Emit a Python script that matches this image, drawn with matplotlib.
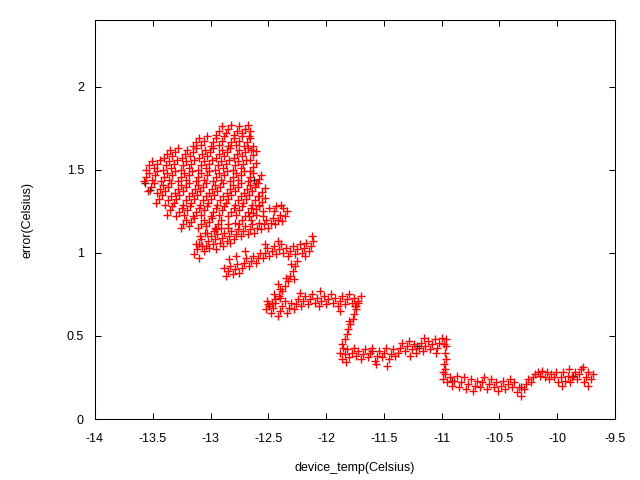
import matplotlib.pyplot as plt

# (device_temp, error) samples, grouped by region
blob_r1 = [(-12.95, 1.71), (-12.925, 1.735), (-12.90, 1.76), (-12.87, 1.72), (-12.845, 1.745), (-12.82, 1.77),
           (-12.80, 1.71), (-12.775, 1.735), (-12.75, 1.76), (-12.73, 1.72), (-12.705, 1.745), (-12.68, 1.77),
           (-12.67, 1.70), (-12.66, 1.73)]
blob_r2 = [(-13.15, 1.64), (-13.125, 1.665), (-13.10, 1.69), (-13.08, 1.65), (-13.055, 1.675), (-13.03, 1.70),
           (-13.00, 1.64), (-12.975, 1.665), (-12.95, 1.69), (-12.93, 1.65), (-12.905, 1.675), (-12.88, 1.70),
           (-12.85, 1.64), (-12.825, 1.665), (-12.80, 1.69), (-12.78, 1.65), (-12.755, 1.675), (-12.73, 1.70),
           (-12.71, 1.64), (-12.685, 1.665), (-12.66, 1.69), (-12.65, 1.62), (-12.63, 1.645)]
blob_r3 = [(-13.40, 1.57), (-13.375, 1.595), (-13.35, 1.62), (-13.33, 1.58), (-13.305, 1.605), (-13.28, 1.63),
           (-13.25, 1.57), (-13.225, 1.595), (-13.20, 1.62), (-13.18, 1.58), (-13.155, 1.605), (-13.13, 1.63),
           (-13.10, 1.57), (-13.075, 1.595), (-13.05, 1.62), (-13.03, 1.58), (-13.005, 1.605), (-12.98, 1.63),
           (-12.95, 1.57), (-12.925, 1.595), (-12.90, 1.62), (-12.88, 1.58), (-12.855, 1.605), (-12.83, 1.63),
           (-12.80, 1.57), (-12.775, 1.595), (-12.75, 1.62), (-12.73, 1.58), (-12.705, 1.605), (-12.68, 1.63),
           (-12.66, 1.56), (-12.635, 1.585), (-12.61, 1.61)]
blob_r4 = [(-13.56, 1.50), (-13.535, 1.525), (-13.51, 1.55), (-13.49, 1.51), (-13.465, 1.535), (-13.44, 1.56),
           (-13.41, 1.50), (-13.385, 1.525), (-13.36, 1.55), (-13.34, 1.51), (-13.315, 1.535), (-13.29, 1.56),
           (-13.26, 1.50), (-13.235, 1.525), (-13.21, 1.55), (-13.19, 1.51), (-13.165, 1.535), (-13.14, 1.56),
           (-13.11, 1.50), (-13.085, 1.525), (-13.06, 1.55), (-13.04, 1.51), (-13.015, 1.535), (-12.99, 1.56),
           (-12.96, 1.50), (-12.935, 1.525), (-12.91, 1.55), (-12.89, 1.51), (-12.865, 1.535), (-12.84, 1.56),
           (-12.81, 1.50), (-12.785, 1.525), (-12.76, 1.55), (-12.74, 1.51), (-12.715, 1.535), (-12.69, 1.56),
           (-12.66, 1.49), (-12.635, 1.515), (-12.61, 1.54)]
blob_r5 = [(-13.58, 1.43), (-13.555, 1.455), (-13.53, 1.48), (-13.51, 1.44), (-13.485, 1.465), (-13.46, 1.49),
           (-13.43, 1.43), (-13.405, 1.455), (-13.38, 1.48), (-13.36, 1.44), (-13.335, 1.465), (-13.31, 1.49),
           (-13.28, 1.43), (-13.255, 1.455), (-13.23, 1.48), (-13.21, 1.44), (-13.185, 1.465), (-13.16, 1.49),
           (-13.13, 1.43), (-13.105, 1.455), (-13.08, 1.48), (-13.06, 1.44), (-13.035, 1.465), (-13.01, 1.49),
           (-12.98, 1.43), (-12.955, 1.455), (-12.93, 1.48), (-12.91, 1.44), (-12.885, 1.465), (-12.86, 1.49),
           (-12.83, 1.43), (-12.805, 1.455), (-12.78, 1.48), (-12.76, 1.44), (-12.735, 1.465), (-12.71, 1.49),
           (-12.68, 1.43), (-12.655, 1.455), (-12.63, 1.48), (-12.61, 1.42), (-12.585, 1.445), (-12.56, 1.47)]
blob_r6 = [(-13.54, 1.37), (-13.515, 1.395), (-13.49, 1.42), (-13.46, 1.36), (-13.435, 1.385), (-13.41, 1.41),
           (-13.39, 1.37), (-13.365, 1.395), (-13.34, 1.42), (-13.31, 1.36), (-13.285, 1.385), (-13.26, 1.41),
           (-13.24, 1.37), (-13.215, 1.395), (-13.19, 1.42), (-13.16, 1.36), (-13.135, 1.385), (-13.11, 1.41),
           (-13.09, 1.37), (-13.065, 1.395), (-13.04, 1.42), (-13.01, 1.36), (-12.985, 1.385), (-12.96, 1.41),
           (-12.94, 1.37), (-12.915, 1.395), (-12.89, 1.42), (-12.86, 1.36), (-12.835, 1.385), (-12.81, 1.41),
           (-12.79, 1.37), (-12.765, 1.395), (-12.74, 1.42), (-12.71, 1.36), (-12.685, 1.385), (-12.66, 1.41),
           (-12.64, 1.37), (-12.615, 1.395), (-12.59, 1.42), (-12.58, 1.34), (-12.555, 1.365), (-12.53, 1.39)]
blob_r7 = [(-13.47, 1.30), (-13.445, 1.325), (-13.42, 1.35), (-13.39, 1.29), (-13.365, 1.315), (-13.34, 1.34),
           (-13.32, 1.30), (-13.295, 1.325), (-13.27, 1.35), (-13.24, 1.29), (-13.215, 1.315), (-13.19, 1.34),
           (-13.17, 1.30), (-13.145, 1.325), (-13.12, 1.35), (-13.09, 1.29), (-13.065, 1.315), (-13.04, 1.34),
           (-13.02, 1.30), (-12.995, 1.325), (-12.97, 1.35), (-12.94, 1.29), (-12.915, 1.315), (-12.89, 1.34),
           (-12.87, 1.30), (-12.845, 1.325), (-12.82, 1.35), (-12.79, 1.29), (-12.765, 1.315), (-12.74, 1.34),
           (-12.72, 1.30), (-12.695, 1.325), (-12.67, 1.35), (-12.64, 1.29), (-12.615, 1.315), (-12.59, 1.34),
           (-12.58, 1.28), (-12.555, 1.305), (-12.53, 1.33)]
blob_r8 = [(-13.38, 1.23), (-13.355, 1.255), (-13.33, 1.28), (-13.30, 1.22), (-13.275, 1.245), (-13.25, 1.27),
           (-13.23, 1.23), (-13.205, 1.255), (-13.18, 1.28), (-13.15, 1.22), (-13.125, 1.245), (-13.10, 1.27),
           (-13.08, 1.23), (-13.055, 1.255), (-13.03, 1.28), (-13.00, 1.22), (-12.975, 1.245), (-12.95, 1.27),
           (-12.93, 1.23), (-12.905, 1.255), (-12.88, 1.28), (-12.85, 1.22), (-12.825, 1.245), (-12.80, 1.27),
           (-12.78, 1.23), (-12.755, 1.255), (-12.73, 1.28), (-12.70, 1.22), (-12.675, 1.245), (-12.65, 1.27),
           (-12.63, 1.24), (-12.605, 1.265), (-12.58, 1.29)]
blob_r9 = [(-13.26, 1.15), (-13.235, 1.175), (-13.21, 1.20), (-13.19, 1.16), (-13.165, 1.185), (-13.14, 1.21),
           (-13.11, 1.15), (-13.085, 1.175), (-13.06, 1.20), (-13.04, 1.16), (-13.015, 1.185), (-12.99, 1.21),
           (-12.96, 1.15), (-12.935, 1.175), (-12.91, 1.20)]

band_12 = [(-13.14, 0.99), (-13.12, 1.02), (-13.10, 1.05), (-13.08, 1.08), (-13.06, 1.01), (-13.04, 1.04),
           (-13.02, 1.07), (-13.00, 1.10), (-12.98, 1.05), (-12.96, 1.08), (-12.94, 1.11), (-12.92, 1.06),
           (-12.90, 1.09), (-12.88, 1.12), (-12.86, 1.07), (-12.84, 1.10), (-12.82, 1.13), (-12.80, 1.08),
           (-12.78, 1.11), (-12.76, 1.14), (-12.74, 1.10), (-12.72, 1.13), (-12.70, 1.16), (-12.68, 1.11),
           (-12.66, 1.14), (-12.64, 1.17), (-12.62, 1.12), (-12.60, 1.15), (-12.58, 1.18), (-12.56, 1.14),
           (-12.54, 1.17), (-12.52, 1.20), (-12.50, 1.15), (-12.48, 1.18), (-12.46, 1.21), (-12.44, 1.17),
           (-12.42, 1.20), (-12.40, 1.23), (-12.38, 1.19), (-12.36, 1.22), (-12.34, 1.25), (-12.37, 1.27),
           (-12.45, 1.25), (-12.55, 1.22), (-12.65, 1.20), (-12.75, 1.17), (-12.85, 1.15), (-12.95, 1.14),
           (-13.05, 1.12), (-13.10, 0.97)]
band_12b = [(-13.09, 1.10), (-13.03, 1.12), (-12.97, 1.13), (-12.91, 1.15), (-12.85, 1.17), (-12.79, 1.18),
            (-12.73, 1.20), (-12.67, 1.22), (-12.61, 1.23), (-12.55, 1.25), (-12.49, 1.27), (-12.43, 1.28),
            (-12.39, 1.29), (-13.13, 1.05), (-13.07, 1.04), (-13.01, 1.03), (-12.95, 1.02), (-12.89, 1.04),
            (-12.83, 1.06)]

band_10 = [(-12.87, 0.86), (-12.85, 0.89), (-12.83, 0.92), (-12.81, 0.87), (-12.79, 0.90), (-12.77, 0.93),
           (-12.75, 0.88), (-12.73, 0.91), (-12.71, 0.94), (-12.69, 0.97), (-12.67, 0.92), (-12.65, 0.95),
           (-12.63, 0.98), (-12.61, 0.94), (-12.59, 0.97), (-12.57, 1.00), (-12.84, 0.96), (-12.78, 0.98),
           (-12.70, 1.01), (-12.88, 0.91),
           (-12.55, 0.97), (-12.53, 1.00), (-12.51, 1.03), (-12.49, 0.98), (-12.47, 1.01), (-12.45, 1.04),
           (-12.43, 0.99), (-12.41, 1.02), (-12.39, 1.05), (-12.37, 1.00), (-12.35, 1.03), (-12.33, 0.98),
           (-12.31, 1.01), (-12.29, 1.04), (-12.27, 0.99), (-12.25, 1.02), (-12.23, 1.05), (-12.21, 1.00),
           (-12.19, 1.03), (-12.17, 1.06), (-12.15, 1.01), (-12.13, 1.04), (-12.11, 1.07), (-12.12, 1.10),
           (-12.18, 0.98), (-12.42, 1.07), (-12.53, 1.05)]

drop_1 = [(-12.25, 0.95), (-12.27, 0.92), (-12.29, 0.89), (-12.31, 0.86), (-12.33, 0.83), (-12.36, 0.80),
          (-12.38, 0.77), (-12.41, 0.74), (-12.44, 0.72), (-12.47, 0.70), (-12.49, 0.68), (-12.30, 0.93),
          (-12.35, 0.85), (-12.40, 0.78), (-12.45, 0.75), (-12.51, 0.71), (-12.28, 0.84), (-12.42, 0.81)]

band_07 = [(-12.52, 0.66), (-12.50, 0.69), (-12.48, 0.64), (-12.46, 0.67), (-12.44, 0.70), (-12.42, 0.62),
           (-12.40, 0.65), (-12.38, 0.68), (-12.36, 0.71), (-12.34, 0.64), (-12.32, 0.67), (-12.30, 0.70),
           (-12.28, 0.66), (-12.26, 0.69), (-12.24, 0.72), (-12.22, 0.68), (-12.20, 0.71), (-12.18, 0.74),
           (-12.16, 0.69), (-12.14, 0.72), (-12.12, 0.75), (-12.10, 0.70), (-12.08, 0.73), (-12.06, 0.68),
           (-12.04, 0.71), (-12.02, 0.74), (-12.00, 0.69), (-11.98, 0.72), (-11.96, 0.75), (-11.94, 0.70),
           (-11.92, 0.73), (-11.90, 0.68), (-11.88, 0.71), (-11.86, 0.74), (-11.84, 0.69), (-11.82, 0.72),
           (-11.80, 0.75), (-11.78, 0.70), (-11.76, 0.73), (-11.74, 0.68), (-11.72, 0.71), (-11.70, 0.74),
           (-12.23, 0.76), (-12.05, 0.77), (-11.88, 0.65), (-12.40, 0.73)]

drop_2 = [(-11.72, 0.70), (-11.74, 0.66), (-11.76, 0.63), (-11.77, 0.60), (-11.79, 0.57), (-11.81, 0.54),
          (-11.82, 0.51), (-11.84, 0.48), (-11.86, 0.45), (-11.85, 0.43), (-11.75, 0.68), (-11.80, 0.59)]

band_04 = [(-11.88, 0.40), (-11.86, 0.36), (-11.84, 0.39), (-11.82, 0.42), (-11.80, 0.37), (-11.78, 0.40),
           (-11.76, 0.43), (-11.74, 0.38), (-11.72, 0.41), (-11.70, 0.36), (-11.68, 0.39), (-11.66, 0.42),
           (-11.64, 0.37), (-11.62, 0.40), (-11.60, 0.43), (-11.58, 0.35), (-11.56, 0.38), (-11.54, 0.41),
           (-11.52, 0.37), (-11.50, 0.40), (-11.48, 0.43), (-11.46, 0.36), (-11.44, 0.39), (-11.42, 0.42),
           (-11.40, 0.38), (-11.57, 0.33), (-11.47, 0.32), (-11.83, 0.34),
           (-11.38, 0.40), (-11.36, 0.43), (-11.34, 0.46), (-11.32, 0.41), (-11.30, 0.44), (-11.28, 0.47),
           (-11.26, 0.42), (-11.24, 0.45), (-11.22, 0.40), (-11.20, 0.43), (-11.18, 0.46), (-11.16, 0.41),
           (-11.14, 0.44), (-11.12, 0.47), (-11.10, 0.42), (-11.08, 0.45), (-11.06, 0.48), (-11.04, 0.43),
           (-11.02, 0.46), (-11.00, 0.49), (-10.98, 0.45), (-10.96, 0.48), (-11.05, 0.40), (-11.15, 0.49),
           (-11.27, 0.38)]

drop_3 = [(-10.96, 0.44), (-10.97, 0.40), (-10.96, 0.36), (-10.98, 0.33), (-10.97, 0.30), (-10.99, 0.28)]

band_02 = [(-10.99, 0.24), (-10.97, 0.27), (-10.95, 0.22), (-10.93, 0.25), (-10.91, 0.20), (-10.89, 0.23),
           (-10.87, 0.26), (-10.85, 0.19), (-10.83, 0.22), (-10.81, 0.25), (-10.79, 0.18), (-10.77, 0.21),
           (-10.75, 0.24), (-10.73, 0.17), (-10.71, 0.20), (-10.69, 0.23), (-10.67, 0.19), (-10.65, 0.22),
           (-10.63, 0.25), (-10.61, 0.18), (-10.59, 0.21), (-10.57, 0.24), (-10.55, 0.19), (-10.53, 0.22),
           (-10.51, 0.17), (-10.49, 0.20), (-10.47, 0.23), (-10.45, 0.18), (-10.43, 0.21), (-10.41, 0.24),
           (-10.39, 0.19), (-10.37, 0.22), (-10.35, 0.16), (-10.33, 0.19), (-10.31, 0.14), (-10.29, 0.18),
           (-10.27, 0.21), (-10.25, 0.24), (-10.23, 0.22), (-10.21, 0.25), (-10.19, 0.27), (-10.17, 0.28)]

band_tail = [(-10.15, 0.26), (-10.13, 0.29), (-10.11, 0.25), (-10.09, 0.28), (-10.07, 0.24), (-10.05, 0.27),
             (-10.03, 0.25), (-10.01, 0.28), (-9.99, 0.22), (-9.97, 0.25), (-9.95, 0.28), (-9.93, 0.23),
             (-9.91, 0.26), (-9.89, 0.22), (-9.87, 0.25), (-9.85, 0.28), (-9.83, 0.24), (-9.81, 0.27),
             (-9.79, 0.30), (-9.77, 0.22), (-9.75, 0.25), (-9.73, 0.28), (-9.71, 0.24), (-9.69, 0.27),
             (-9.73, 0.20), (-9.78, 0.31), (-9.90, 0.30), (-9.96, 0.20)]

# second (dark) series, mostly hidden under the red one
dark_pts = [(-13.57, 1.42), (-13.52, 1.38), (-12.62, 1.44), (-11.60, 0.41), (-11.21, 0.44),
            (-10.91, 0.23), (-10.31, 0.19), (-9.86, 0.26)]

red_groups = [blob_r1, blob_r2, blob_r3, blob_r4, blob_r5, blob_r6, blob_r7, blob_r8, blob_r9,
              band_12, band_12b, band_10, drop_1, band_07, drop_2, band_04, drop_3, band_02, band_tail]

xticks = [-14, -13.5, -13, -12.5, -12, -11.5, -11, -10.5, -10, -9.5]
xtick_labels = ['-14', '-13.5', '-13', '-12.5', '-12', '-11.5', '-11', '-10.5', '-10', '-9.5']
yticks = [0, 0.5, 1, 1.5, 2]
ytick_labels = ['0', '0.5', '1', '1.5', '2']

plt.rcParams['font.family'] = ['Liberation Sans', 'DejaVu Sans']
plt.rcParams['font.size'] = 9

fig = plt.figure(figsize=(6.4, 4.8), dpi=100)
ax = fig.add_axes([95 / 640, 61 / 480, 520 / 640, 399 / 480])

dx, dy = zip(*dark_pts)
ax.plot(dx, dy, '+', color='#303030', ms=6, mew=1.0, antialiased=False)

for grp in red_groups:
    gx, gy = zip(*grp)
    ax.plot(gx, gy, '+', color='#ff0000', ms=6, mew=1.0, antialiased=False)

ax.set_xlim(-14, -9.5)
ax.set_ylim(0, 2.4)
ax.set_xticks(xticks)
ax.set_xticklabels(xtick_labels)
ax.set_yticks(yticks)
ax.set_yticklabels(ytick_labels)
ax.tick_params(direction='in', length=4.5, width=0.75, top=True, right=True)
ax.tick_params(axis='x', pad=10)
ax.tick_params(axis='y', pad=8)
for sp in ax.spines.values():
    sp.set_linewidth(0.75)

ax.set_xlabel('device_temp(Celsius)', labelpad=12)
ax.set_ylabel('error(Celsius)', labelpad=24)

fig.savefig('out.png', dpi=100)
